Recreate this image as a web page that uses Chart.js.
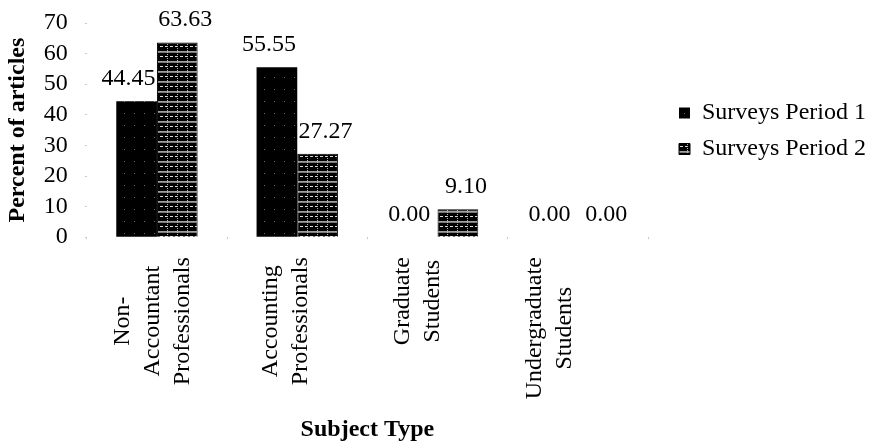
<!DOCTYPE html>
<html>
<head>
<meta charset="utf-8">
<script src="https://cdn.jsdelivr.net/npm/chart.js@4/dist/chart.umd.min.js"></script>
<style>
  html, body { margin: 0; padding: 0; background: #fff; }
  #wrap { width: 874px; height: 444px; }
</style>
</head>
<body>
<div id="wrap"><canvas id="chart"></canvas></div>
<script>
// data
const categories = [
    ['Non-', 'Accountant', 'Professionals'],
    ['Accounting', 'Professionals'],
    ['Graduate', 'Students'],
    ['Undergraduate', 'Students']
];
const seriesNames = ['Surveys Period 1', 'Surveys Period 2'];
const period1 = [44.45, 55.55, 0.00, 0.00];
const period2 = [63.63, 27.27, 9.10, 0.00];
const yTicks = [0, 10, 20, 30, 40, 50, 60, 70];

const FONT = '"Liberation Serif", "Times New Roman", serif';
const SIZE = 24;

// small fill patterns like the old Excel hatching
function makePattern(w, h, paint) {
    const c = document.createElement('canvas');
    c.width = w; c.height = h;
    const g = c.getContext('2d');
    paint(g);
    return g.createPattern(c, 'repeat');
}

const pattern1 = makePattern(10, 12, g => {
    g.fillStyle = '#000';
    g.fillRect(0, 0, 10, 12);
    g.fillStyle = '#6a6a6a';
    g.fillRect(4, 5, 1, 1);
});

const pattern2 = makePattern(10, 10, g => {
    g.fillStyle = '#000';
    g.fillRect(0, 0, 10, 10);
    g.fillStyle = '#a0a0a0';
    g.fillRect(0, 1, 10, 1);
    g.fillStyle = '#7a7a7a';
    g.fillRect(0, 2, 10, 1);
    g.fillStyle = '#d8d8d8';
    g.fillRect(0, 6, 3, 1);
    g.fillRect(5, 6, 3, 1);
    g.fillStyle = '#bbbbbb';
    for (let y = 0; y < 10; y += 2) g.fillRect(7, y, 1, 1);
});

// value labels above each bar (period 1 nudged left, period 2 right, as in the original)
const labelNudge = [-8, 8];
const valueLabels = {
    id: 'valueLabels',
    afterDatasetsDraw(chart) {
        const ctx = chart.ctx;
        ctx.save();
        ctx.font = SIZE + 'px ' + FONT;
        ctx.fillStyle = '#000';
        ctx.textAlign = 'center';
        ctx.textBaseline = 'alphabetic';
        chart.data.datasets.forEach((ds, di) => {
            chart.getDatasetMeta(di).data.forEach((bar, i) => {
                ctx.fillText(ds.data[i].toFixed(2), bar.x + labelNudge[di], bar.y - 16);
            });
        });
        ctx.restore();
    }
};

// vertical, centred multi-line category labels
// (the original drifts them a bit further left for each category)
const categoryLabels = {
    id: 'categoryLabels',
    afterDraw(chart) {
        const ctx = chart.ctx;
        const xs = chart.scales.x;
        const top = chart.chartArea.bottom + 20;
        const gap = 30;
        ctx.save();
        ctx.font = SIZE + 'px ' + FONT;
        ctx.fillStyle = '#000';
        ctx.textAlign = 'center';
        ctx.textBaseline = 'middle';
        categories.forEach((lines, i) => {
            const longest = Math.max(...lines.map(s => ctx.measureText(s).width));
            const cx = xs.getPixelForValue(i) - 4 - 8 * i;
            const cy = top + longest / 2;
            lines.forEach((s, j) => {
                const x = cx + (j - (lines.length - 1) / 2) * gap;
                ctx.save();
                ctx.translate(x, cy);
                ctx.rotate(-Math.PI / 2);
                ctx.fillText(s, 0, 0);
                ctx.restore();
            });
        });
        ctx.restore();
    }
};

// keep the legend a little away from the plot, near the upper half
const legendPlace = {
    id: 'legendPlace',
    afterLayout(chart) {
        const lg = chart.legend;
        const dx = chart.chartArea.right + 19 - lg.left;
        lg.left += dx;
        lg.right += dx;
        lg.top = chart.chartArea.top + 66;
    }
};

const ctx = document.getElementById('chart').getContext('2d');
new Chart(ctx, {
    type: 'bar',
    data: {
        labels: categories,
        datasets: [
            {
                label: seriesNames[0],
                data: period1,
                backgroundColor: pattern1,
                borderColor: '#000',
                borderWidth: 0,
                categoryPercentage: 0.58,
                barPercentage: 1.0
            },
            {
                label: seriesNames[1],
                data: period2,
                backgroundColor: pattern2,
                borderColor: '#000',
                borderWidth: 1,
                categoryPercentage: 0.58,
                barPercentage: 1.0
            }
        ]
    },
    options: {
        responsive: true,
        maintainAspectRatio: false,
        animation: false,
        layout: { padding: { top: 0, right: 17, left: 0, bottom: 0 } },
        plugins: {
            tooltip: { enabled: false },
            legend: {
                position: 'right',
                align: 'start',
                labels: {
                    font: { family: FONT, size: SIZE },
                    color: '#000',
                    boxWidth: 11,
                    boxHeight: 11,
                    padding: 12
                }
            }
        },
        scales: {
            x: {
                border: { display: false },
                grid: { display: true, drawOnChartArea: false, tickLength: 2, color: '#cccccc', offset: true },
                ticks: { display: false },
                title: {
                    display: true,
                    text: 'Subject Type',
                    color: '#000',
                    font: { family: FONT, size: SIZE, weight: 'bold' },
                    padding: { top: 176, bottom: 0 }
                }
            },
            y: {
                min: 0,
                max: 70,
                border: { display: false },
                grid: { display: true, drawOnChartArea: false, tickLength: 2, color: '#cccccc' },
                afterBuildTicks: axis => { axis.ticks = yTicks.map(v => ({ value: v })); },
                // tick padding would otherwise also push the plot down from the top
                afterFit: axis => { axis.paddingTop = 23; axis.paddingBottom = 0; },
                ticks: {
                    color: '#000',
                    padding: 17,
                    autoSkip: false,
                    font: { family: FONT, size: SIZE }
                },
                title: {
                    display: true,
                    text: 'Percent of articles',
                    color: '#000',
                    font: { family: FONT, size: SIZE, weight: 'bold' },
                    padding: { top: 3, bottom: -5 }
                }
            }
        }
    },
    plugins: [valueLabels, categoryLabels, legendPlace]
});
</script>
</body>
</html>
